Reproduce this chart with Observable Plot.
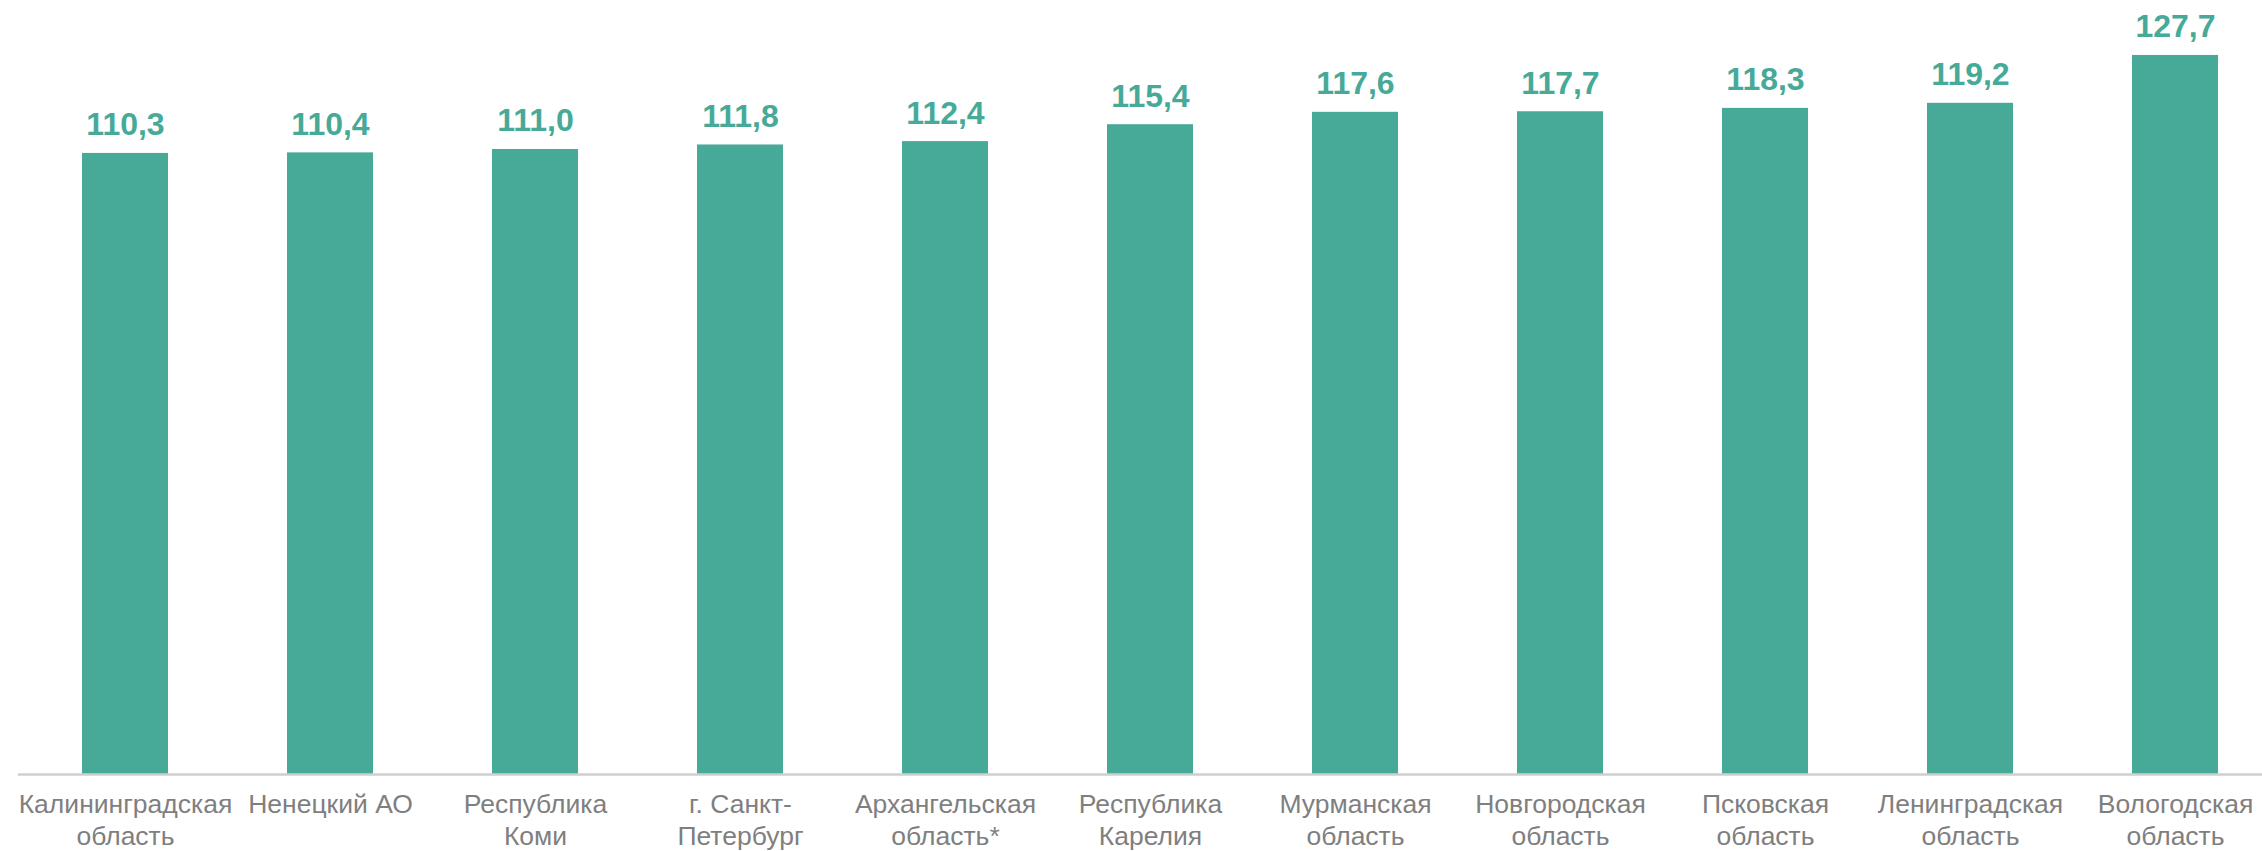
<!DOCTYPE html>
<html>
<head>
<meta charset="utf-8">
<script src="https://cdn.jsdelivr.net/npm/d3@7"></script>
<script src="https://cdn.jsdelivr.net/npm/@observablehq/plot@0.6"></script>
<style>
  html, body { margin: 0; padding: 0; background: #fff; }
  #chart svg { display: block; }
</style>
</head>
<body>
<div id="chart"></div>
<script>
const regions = [
  "Калининградская\nобласть",
  "Ненецкий АО",
  "Республика\nКоми",
  "г. Санкт-\nПетербург",
  "Архангельская\nобласть*",
  "Республика\nКарелия",
  "Мурманская\nобласть",
  "Новгородская\nобласть",
  "Псковская\nобласть",
  "Ленинградская\nобласть",
  "Вологодская\nобласть"
];
const values = [110.3, 110.4, 111.0, 111.8, 112.4, 115.4, 117.6, 117.7, 118.3, 119.2, 127.7];

const data = regions.map((r, i) => ({region: r, value: values[i]}));
const fmt = v => d3.format(".1f")(v).replace(".", ",");
const teal = "#47aa98";

const chart = Plot.plot({
  width: 2262,
  height: 851,
  marginLeft: 18,
  marginRight: 0,
  marginTop: 42,
  marginBottom: 77,
  style: {fontFamily: "'Liberation Sans', Arial, sans-serif", background: "#fff"},
  x: {domain: regions, range: [17.5, 2283], paddingInner: 0.58, paddingOuter: 0.29, label: null},
  y: {domain: [0, 130], axis: null},
  marks: [
    Plot.barY(data, {x: "region", y: "value", fill: teal}),
    Plot.ruleY([0], {stroke: "#cfcfcf", strokeWidth: 2.5}),
    Plot.text(data, {
      x: "region", y: "value", text: d => fmt(d.value),
      dy: -18, lineAnchor: "bottom", fill: teal,
      fontSize: 32, fontWeight: "bold"
    }),
    Plot.axisX({
      tickSize: 0, tickPadding: 16, fontSize: 26.5, lineHeight: 1.2,
      color: "#7f7f7f", label: null, lineAnchor: "top"
    })
  ]
});
document.getElementById("chart").appendChild(chart);
</script>
</body>
</html>
